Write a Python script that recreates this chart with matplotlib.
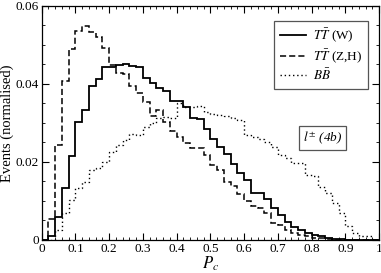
import numpy as np
import matplotlib
matplotlib.use("Agg")
import matplotlib.pyplot as plt
from matplotlib.ticker import MultipleLocator, FixedLocator

plt.rcParams['font.family'] = ['Liberation Serif', 'DejaVu Serif']
plt.rcParams['mathtext.fontset'] = 'stix'

bin_width = 0.02
n_bins = 50

tt_w = [0, 0.0009, 0.006, 0.0132, 0.0216, 0.0303, 0.0334, 0.0395, 0.0412, 0.0444,
        0.0444, 0.0447, 0.0451, 0.0446, 0.0443, 0.0415, 0.0403, 0.039, 0.0382, 0.0356,
        0.0357, 0.034, 0.0312, 0.0309, 0.0284, 0.0258, 0.0239, 0.022, 0.0195, 0.0171,
        0.0153, 0.0121, 0.012, 0.0104, 0.0081, 0.0064, 0.0047, 0.0034, 0.0026, 0.0019,
        0.0013, 0.0009, 0.0005, 0.0003, 0.0002, 0.0001, 0.0001, 0, 0, 0]

tt_zh = [0, 0.0053, 0.0243, 0.0408, 0.0489, 0.0535, 0.0549, 0.0533, 0.052, 0.0492,
         0.0448, 0.0427, 0.0424, 0.0395, 0.0377, 0.0354, 0.0317, 0.0333, 0.0303, 0.0279,
         0.0265, 0.0248, 0.0235, 0.0235, 0.0218, 0.0192, 0.0178, 0.0149, 0.0137, 0.0118,
         0.0101, 0.0087, 0.0081, 0.0068, 0.0044, 0.0038, 0.0026, 0.0017, 0.0013, 0.0009,
         0.0006, 0.0004, 0.0002, 0.0001, 0.0001, 0, 0, 0, 0, 0]

bb = [0, 0, 0.0026, 0.007, 0.0102, 0.0132, 0.0149, 0.0179, 0.0184, 0.0201,
      0.0226, 0.0243, 0.0256, 0.0271, 0.0269, 0.029, 0.030, 0.0312, 0.0316, 0.0312,
      0.035, 0.0341, 0.0341, 0.0342, 0.0329, 0.0323, 0.032, 0.0318, 0.0312, 0.0307,
      0.0269, 0.0265, 0.0258, 0.0252, 0.0239, 0.0218, 0.0209, 0.0198, 0.0198, 0.0166,
      0.0164, 0.0135, 0.0121, 0.0096, 0.0068, 0.0036, 0.0017, 0.001, 0.0009, 0]

x_ticks = [0, 0.1, 0.2, 0.3, 0.4, 0.5, 0.6, 0.7, 0.8, 0.9, 1.0]
x_tick_labels = ["0", "0.1", "0.2", "0.3", "0.4", "0.5", "0.6", "0.7", "0.8", "0.9", "1"]
y_ticks = [0, 0.02, 0.04, 0.06]
y_tick_labels = ["0", "0.02", "0.04", "0.06"]

edges = np.arange(n_bins + 1) * bin_width

fig = plt.figure(figsize=(3.81, 2.73), dpi=100)
ax = fig.add_axes([0.1094, 0.1209, 0.8854, 0.8582])

ax.stairs(tt_w, edges, color='black', lw=1.3, label=r'$T\bar{T}$ (W)', baseline=None)
ax.stairs(tt_zh, edges, color='black', lw=1.1, linestyle=(0, (4, 2)), label=r'$T\bar{T}$ (Z,H)', baseline=None)
ax.stairs(bb, edges, color='black', lw=1.0, linestyle=(0, (1, 2)), label=r'$B\bar{B}$', baseline=None)

ax.set_xlim(0, 1)
ax.set_ylim(0, 0.06)
ax.xaxis.set_major_locator(FixedLocator(x_ticks))
ax.set_xticklabels(x_tick_labels)
ax.yaxis.set_major_locator(FixedLocator(y_ticks))
ax.set_yticklabels(y_tick_labels)
ax.xaxis.set_minor_locator(MultipleLocator(0.02))
ax.yaxis.set_minor_locator(MultipleLocator(0.005))
ax.tick_params(which='both', direction='in', top=True, right=True, labelsize=9.5, pad=2)
ax.tick_params(which='major', length=5, width=0.8)
ax.tick_params(which='minor', length=2.5, width=0.6)
for s in ax.spines.values():
    s.set_linewidth(0.9)

ax.set_ylabel('Events (normalised)', fontsize=10.5, va='center')
ax.yaxis.set_label_coords(-0.102, 0.5)
ax.set_xlabel(r'$P_c$', fontsize=12, labelpad=0)

leg = ax.legend(loc='upper right', bbox_to_anchor=(0.987, 0.964), fontsize=9.5,
                handlelength=2.0, handletextpad=0.5, borderpad=0.45, labelspacing=0.2,
                fancybox=False, framealpha=1)
leg.get_frame().set_edgecolor('#555555')
leg.get_frame().set_linewidth(0.9)

ax.text(0.832, 0.0261, r'$l^{\pm}$ (4b)', fontsize=9.5, fontstyle='italic',
        ha='center', va='center',
        bbox=dict(boxstyle='square,pad=0.3', fc='white', ec='#555555', lw=0.9))

fig.savefig('out.png', dpi=100)
